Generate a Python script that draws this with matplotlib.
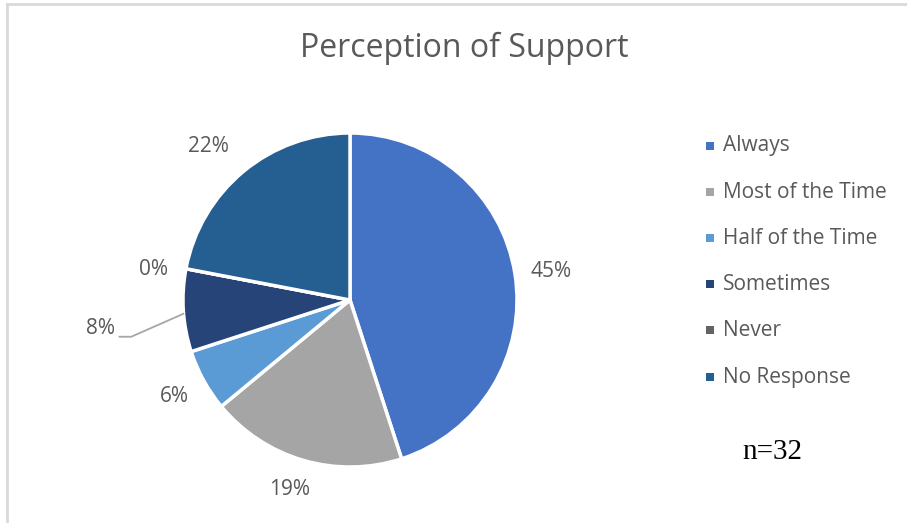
import matplotlib
matplotlib.use("Agg")
import matplotlib.pyplot as plt
import numpy as np
from matplotlib.lines import Line2D
from matplotlib.patches import Rectangle

categories = ["Always", "Most of the Time", "Half of the Time", "Sometimes", "Never", "No Response"]
values = [45, 19, 6, 8, 0, 22]
labels = ["45%", "19%", "6%", "8%", "0%", "22%"]
colors = ["#4472C4", "#A5A5A5", "#5B9BD5", "#264478", "#636363", "#255E91"]
title = "Perception of Support"
note = "n=32"

W, H = 907, 523
fig = plt.figure(figsize=(W / 100, H / 100), dpi=100)
fig.patch.set_facecolor("white")

# border (top and left)
fig.add_artist(Line2D([7 / W, 7 / W], [0, 1 - 4 / H], transform=fig.transFigure, color="#D9D9D9", lw=2))
fig.add_artist(Line2D([7 / W, 1], [1 - 4 / H, 1 - 4 / H], transform=fig.transFigure, color="#D9D9D9", lw=2))

cx, cy, r = 350, 300, 167
ax = fig.add_axes([(cx - r) / W, (H - cy - r) / H, 2 * r / W, 2 * r / H])
wedges, _ = ax.pie(values, colors=colors, startangle=90, counterclock=False,
                   wedgeprops=dict(edgecolor="white", linewidth=2.5))
ax.set_xlim(-1, 1)
ax.set_ylim(-1, 1)
ax.set_aspect("equal")
ax.axis("off")

txt_color = "#595959"
font = "Open Sans"
lab_fs = 15
dist = {0: 1.22, 1: 1.18, 2: 1.2, 4: 1.2, 5: 1.22}
nudge = {0: (0, -0.02), 1: (-0.03, 0), 2: (0, 0), 4: (0, -0.04), 5: (-0.07, -0.02)}
for i, (w, lab) in enumerate(zip(wedges, labels)):
    mid = np.deg2rad((w.theta1 + w.theta2) / 2)
    if i == 3:
        ex, ey = np.cos(mid), np.sin(mid)
        ax.plot([ex * 1.0, -1.31, -1.38], [ey * 1.0 - 0.02, -0.22, -0.22], color="#A6A6A6", lw=1.3, clip_on=False)
        ax.text(-1.41, -0.17, lab, ha="right", va="center", fontsize=lab_fs, color=txt_color, family=font)
        continue
    d = dist[i]
    dx, dy = nudge[i]
    ax.text(d * np.cos(mid) + dx, d * np.sin(mid) + dy, lab, ha="center", va="center",
            fontsize=lab_fs, color=txt_color, family=font)

fig.text(464 / W, 1 - 48 / H, title, ha="center", va="center", fontsize=23, color=txt_color, family=font)

ys = [146, 192, 238, 284, 330, 377]
for c, lab, y in zip(colors, categories, ys):
    fig.add_artist(Rectangle((706 / W, 1 - (y + 4) / H), 8 / W, 8 / H, transform=fig.transFigure,
                             facecolor=c, edgecolor="none"))
    fig.text(723 / W, 1 - y / H, lab, ha="left", va="center", fontsize=15, color=txt_color, family=font)

fig.text(742 / W, 1 - 452 / H, note, ha="left", va="center", fontsize=21, color="black", family="Liberation Serif")

fig.savefig("out.png", dpi=100)
